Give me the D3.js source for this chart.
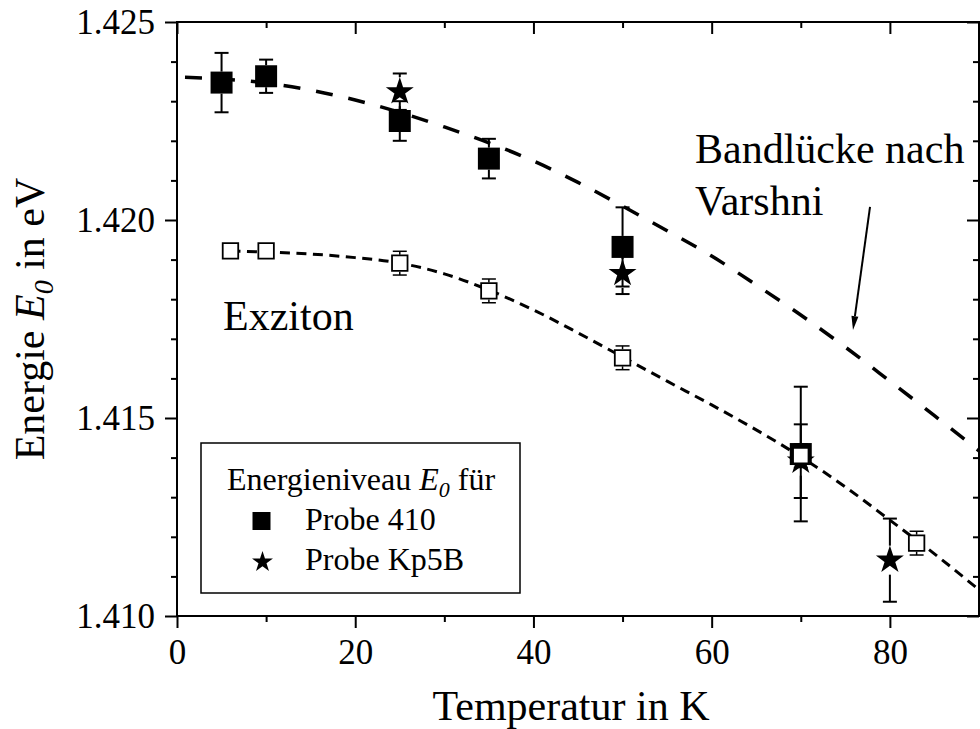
<!DOCTYPE html>
<html>
<head>
<meta charset="utf-8">
<script src="https://cdn.jsdelivr.net/npm/d3@7"></script>
<style>
    body { margin: 0; background: #ffffff; }
    svg text { font-family: "Liberation Serif", "Times New Roman", serif; fill: #000000; }
</style>
</head>
<body>
<svg id="chart"></svg>
<script>
// Probe 410 (filled squares)
let probe410T = [5, 10, 25, 35, 50, 70];
let probe410E = [1.42347, 1.42363, 1.42250, 1.42155, 1.41932, 1.41409];
let probe410Err = [0.00075, 0.00042, 0.0005, 0.0005, 0.001, 0.0017];

// Probe Kp5B (stars)
let kp5bT = [25, 50, 70, 80];
let kp5bE = [1.42324, 1.41865, 1.41391, 1.41141];
let kp5bErr = [0.00046, 0.00052, 0.00093, 0.00105];

// Exziton (open squares)
let exzitonT = [6, 10, 25, 35, 50, 70, 83];
let exzitonE = [1.41922, 1.41922, 1.41891, 1.41821, 1.41652, 1.41405, 1.41184];
let exzitonErr = [0, 0, 0.0003, 0.0003, 0.0003, 0.0003, 0.0003];

// Bandluecke nach Varshni, dashed curve
let varshniT = [0, 5, 10, 15, 20, 25, 30, 35, 40, 45, 50, 55, 60, 65, 70, 75, 80, 85, 90];
let varshniE = [1.42361, 1.42356, 1.42346, 1.42328, 1.42303, 1.42272, 1.42235, 1.42195, 1.42149,
    1.42095, 1.42035, 1.41973, 1.41909, 1.41836, 1.41760, 1.41679, 1.41593, 1.41506, 1.41417];

// Exziton curve, short dashes
let exzitonFitT = [6, 10, 15, 20, 25, 30, 35, 40, 45, 50, 55, 60, 65, 70, 75, 80, 85, 90];
let exzitonFitE = [1.41922, 1.41919, 1.41914, 1.41905, 1.41891, 1.41864, 1.41823, 1.41773, 1.41715,
    1.41654, 1.41593, 1.41533, 1.41470, 1.41402, 1.41326, 1.41242, 1.41157, 1.41066];

let xTicks = [0, 20, 40, 60, 80];
let xMinorTicks = [10, 30, 50, 70];
let yTicks = [1.410, 1.415, 1.420, 1.425];
let yMinorTicks = [1.411, 1.412, 1.413, 1.414, 1.416, 1.417, 1.418, 1.419, 1.421, 1.422, 1.423, 1.424];

// Basic values for the SVG
let width = 980;
let height = 729;
let plotLeft = 177, plotRight = 979, plotTop = 22, plotBottom = 616;

let svg = d3.select("#chart").attr("width", width).attr("height", height);

let x = d3.scaleLinear().domain([0, 90]).range([plotLeft, plotRight]);
let y = d3.scaleLinear().domain([1.410, 1.425]).range([plotBottom, plotTop]);

// Axes: left/bottom ticks outside, top/right ticks inside
function drawAxis(axis, transform, labels){
    let g = svg.append("g").attr("transform", transform).call(axis);
    g.select(".domain").remove();
    g.selectAll("line").attr("stroke", "#000").attr("stroke-width", 2);
    g.selectAll("text").style("font-size", "35px").style("font-family", "'Liberation Serif', serif");
    if(!labels) g.selectAll("text").remove();
    return g;
}

drawAxis(d3.axisBottom(x).tickValues(xTicks).tickSize(12).tickPadding(11).tickFormat(d3.format("d")), "translate(0," + plotBottom + ")", true);
drawAxis(d3.axisBottom(x).tickValues(xMinorTicks).tickSize(6), "translate(0," + plotBottom + ")", false);
drawAxis(d3.axisBottom(x).tickValues(xTicks).tickSize(12), "translate(0," + plotTop + ")", false);
drawAxis(d3.axisBottom(x).tickValues(xMinorTicks).tickSize(6), "translate(0," + plotTop + ")", false);

drawAxis(d3.axisLeft(y).tickValues(yTicks).tickSize(12).tickPadding(10).tickFormat(d3.format(".3f")), "translate(" + plotLeft + ",0)", true);
drawAxis(d3.axisLeft(y).tickValues(yMinorTicks).tickSize(6), "translate(" + plotLeft + ",0)", false);
drawAxis(d3.axisLeft(y).tickValues(yTicks).tickSize(12), "translate(" + plotRight + ",0)", false);
drawAxis(d3.axisLeft(y).tickValues(yMinorTicks).tickSize(6), "translate(" + plotRight + ",0)", false);

// Frame
svg.append("rect")
    .attr("x", plotLeft).attr("y", plotTop)
    .attr("width", plotRight - plotLeft).attr("height", plotBottom - plotTop)
    .attr("fill", "none").attr("stroke", "#000").attr("stroke-width", 2);

// Curves
let line = d3.line().curve(d3.curveMonotoneX)
    .x(function(d){ return x(d[0]); })
    .y(function(d){ return y(d[1]); });

svg.append("path")
    .datum(d3.zip(varshniT, varshniE))
    .attr("d", line)
    .attr("fill", "none").attr("stroke", "#000").attr("stroke-width", 3.5)
    .attr("stroke-dasharray", "17,16").attr("stroke-dashoffset", 25);

svg.append("path")
    .datum(d3.zip(exzitonFitT, exzitonFitE))
    .attr("d", line)
    .attr("fill", "none").attr("stroke", "#000").attr("stroke-width", 3)
    .attr("stroke-dasharray", "10,6.5");

// Error bars: line from the symbol edge to a cap
function drawErrorBars(T, E, Err, half, capWidth, strokeWidth){
    let g = svg.append("g").attr("stroke", "#000").attr("stroke-width", strokeWidth);
    for(let i = 0; i < T.length; i++){
        if(Err[i] <= 0) continue;
        let cx = x(T[i]);
        let cy = y(E[i]);
        let yTop = y(E[i] + Err[i]);
        let yBot = y(E[i] - Err[i]);
        if(yTop < cy - half){
            g.append("line").attr("x1", cx).attr("x2", cx).attr("y1", yTop).attr("y2", cy - half);
        }
        if(yBot > cy + half){
            g.append("line").attr("x1", cx).attr("x2", cx).attr("y1", cy + half).attr("y2", yBot);
        }
        g.append("line").attr("x1", cx - capWidth/2).attr("x2", cx + capWidth/2).attr("y1", yTop).attr("y2", yTop);
        g.append("line").attr("x1", cx - capWidth/2).attr("x2", cx + capWidth/2).attr("y1", yBot).attr("y2", yBot);
    }
}

let starSize = function(r){ return r * r / 0.8908130915292852; };

// Probe 410
drawErrorBars(probe410T, probe410E, probe410Err, 11, 14, 2);
svg.selectAll(".probe410")
    .data(d3.zip(probe410T, probe410E))
    .enter()
    .append("path")
    .attr("class", "probe410")
    .attr("transform", function(d){ return "translate(" + x(d[0]) + "," + y(d[1]) + ")"; })
    .attr("d", d3.symbol().type(d3.symbolSquare).size(22 * 22))
    .attr("fill", "#000");

// Probe Kp5B
drawErrorBars(kp5bT, kp5bE, kp5bErr, 14.5, 14, 2);
svg.selectAll(".kp5b")
    .data(d3.zip(kp5bT, kp5bE))
    .enter()
    .append("path")
    .attr("class", "kp5b")
    .attr("transform", function(d){ return "translate(" + x(d[0]) + "," + y(d[1]) + ")"; })
    .attr("d", d3.symbol().type(d3.symbolStar).size(starSize(14.7)))
    .attr("fill", "#000");

// Exziton
drawErrorBars(exzitonT, exzitonE, exzitonErr, 8.5, 14, 1.5);
svg.selectAll(".exziton")
    .data(d3.zip(exzitonT, exzitonE))
    .enter()
    .append("path")
    .attr("class", "exziton")
    .attr("transform", function(d){ return "translate(" + x(d[0]) + "," + y(d[1]) + ")"; })
    .attr("d", d3.symbol().type(d3.symbolSquare).size(15.5 * 15.5))
    .attr("fill", "#fff").attr("stroke", "#000").attr("stroke-width", 1.8);

// Annotations
svg.append("text").attr("x", 223).attr("y", 330).style("font-size", "42px").text("Exziton");
svg.append("text").attr("x", 695).attr("y", 163).style("font-size", "42px").text("Bandlücke nach");
svg.append("text").attr("x", 695).attr("y", 215).style("font-size", "42px").text("Varshni");

// Arrow to the Varshni curve
let arrowFrom = [x(77.77), y(1.42033)];
let arrowTo = [x(75.86), y(1.41722)];
let dx = arrowTo[0] - arrowFrom[0], dy = arrowTo[1] - arrowFrom[1];
let len = Math.sqrt(dx * dx + dy * dy);
let ux = dx / len, uy = dy / len;
let headLen = 14, headHalf = 3.5;
let bx = arrowTo[0] - ux * headLen, by = arrowTo[1] - uy * headLen;
svg.append("line")
    .attr("x1", arrowFrom[0]).attr("y1", arrowFrom[1])
    .attr("x2", bx).attr("y2", by)
    .attr("stroke", "#000").attr("stroke-width", 2);
svg.append("path")
    .attr("d", "M" + arrowTo[0] + "," + arrowTo[1] +
        "L" + (bx - uy * headHalf) + "," + (by + ux * headHalf) +
        "L" + (bx + uy * headHalf) + "," + (by - ux * headHalf) + "Z")
    .attr("fill", "#000");

// Axis titles
svg.append("text")
    .attr("x", (plotLeft + plotRight) / 2 - 7).attr("y", 720)
    .attr("text-anchor", "middle")
    .style("font-size", "42px")
    .text("Temperatur in K");

let yTitle = svg.append("text")
    .attr("transform", "translate(44," + ((plotTop + plotBottom) / 2) + ") rotate(-90)")
    .attr("text-anchor", "middle")
    .style("font-size", "42px");
yTitle.append("tspan").text("Energie ");
yTitle.append("tspan").style("font-style", "italic").text("E");
yTitle.append("tspan").style("font-style", "italic").style("font-size", "28px").attr("dy", 9).text("0");
yTitle.append("tspan").attr("dy", -9).text(" in eV");

// Legend
svg.append("rect")
    .attr("x", 201).attr("y", 443).attr("width", 319).attr("height", 150)
    .attr("fill", "#fff").attr("stroke", "#000").attr("stroke-width", 1.5);

let legendTitle = svg.append("text").attr("x", 227).attr("y", 490).style("font-size", "32px");
legendTitle.append("tspan").text("Energieniveau ");
legendTitle.append("tspan").style("font-style", "italic").text("E");
legendTitle.append("tspan").style("font-style", "italic").style("font-size", "22px").attr("dy", 7).text("0");
legendTitle.append("tspan").attr("dy", -7).text(" für");

svg.append("path")
    .attr("transform", "translate(261.5,521)")
    .attr("d", d3.symbol().type(d3.symbolSquare).size(18 * 18))
    .attr("fill", "#000");
svg.append("text").attr("x", 305).attr("y", 530).style("font-size", "32px").text("Probe 410");

svg.append("path")
    .attr("transform", "translate(262.5,562)")
    .attr("d", d3.symbol().type(d3.symbolStar).size(starSize(11)))
    .attr("fill", "#000");
svg.append("text").attr("x", 305).attr("y", 570).style("font-size", "32px").text("Probe Kp5B");
</script>
</body>
</html>
